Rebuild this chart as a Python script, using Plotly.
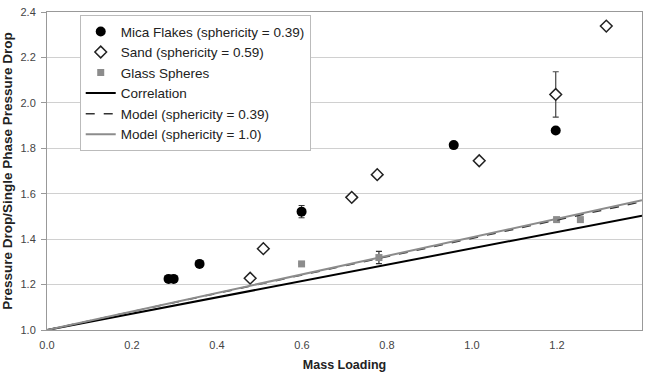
import plotly.graph_objects as go

mica_x = [0.286, 0.298, 0.359, 0.599, 0.957, 1.197]
mica_y = [1.225, 1.225, 1.291, 1.521, 1.814, 1.878]
mica_err = [0, 0, 0, 0.027, 0, 0]

sand_x = [0.478, 0.509, 0.717, 0.777, 1.017, 1.197, 1.316]
sand_y = [1.228, 1.358, 1.584, 1.684, 1.745, 2.037, 2.338]
sand_err = [0, 0, 0, 0, 0, 0.10, 0]

glass_x = [0.599, 0.781, 1.199, 1.255]
glass_y = [1.291, 1.319, 1.486, 1.486]
glass_err = [0, 0.027, 0, 0]

line_x = [0.0, 1.4]
corr_y = [1.0, 1.503]
model039_y = [1.0, 1.565]
model10_y = [1.0, 1.571]

x_ticks = [0.0, 0.2, 0.4, 0.6, 0.8, 1.0, 1.2, 1.4]
y_ticks = [1.0, 1.2, 1.4, 1.6, 1.8, 2.0, 2.2, 2.4]

font_family = "Liberation Sans, Arial, sans-serif"

fig = go.Figure()
fig.add_trace(go.Scatter(
    x=mica_x, y=mica_y, mode="markers", name="Mica Flakes (sphericity = 0.39)",
    marker=dict(symbol="circle", size=10, color="black"),
    error_y=dict(type="data", array=mica_err, visible=True, color="#333", thickness=1, width=3),
))
fig.add_trace(go.Scatter(
    x=sand_x, y=sand_y, mode="markers", name="Sand (sphericity = 0.59)",
    marker=dict(symbol="diamond", size=9, color="white", line=dict(color="#222", width=1.5)),
    error_y=dict(type="data", array=sand_err, visible=True, color="#444", thickness=1.2, width=3),
))
fig.add_trace(go.Scatter(
    x=glass_x, y=glass_y, mode="markers", name="Glass Spheres",
    marker=dict(symbol="square", size=7, color="#8c8c8c"),
    error_y=dict(type="data", array=glass_err, visible=True, color="#333", thickness=1.2, width=3),
))
fig.add_trace(go.Scatter(
    x=line_x, y=corr_y, mode="lines", name="Correlation",
    line=dict(color="black", width=2),
))
fig.add_trace(go.Scatter(
    x=line_x, y=model039_y, mode="lines", name="Model (sphericity = 0.39)",
    line=dict(color="#333", width=1.5, dash="dash"),
))
fig.add_trace(go.Scatter(
    x=line_x, y=model10_y, mode="lines", name="Model (sphericity = 1.0)",
    line=dict(color="#8c8c8c", width=2),
))

fig.update_layout(
    width=649, height=379,
    margin=dict(l=47, r=7, t=12, b=49, autoexpand=False),
    paper_bgcolor="white", plot_bgcolor="white",
    font=dict(family=font_family, size=11, color="#333"),
    showlegend=True,
    legend=dict(
        x=0.055, y=0.99, xanchor="left", yanchor="top",
        bgcolor="white", bordercolor="#bbb", borderwidth=1,
        font=dict(size=13.5, color="#222"),
        tracegroupgap=0, itemwidth=30,
    ),
    xaxis=dict(
        range=[0, 1.4], tickvals=x_ticks, tickformat=".1f",
        showgrid=False, zeroline=False, showline=True, linecolor="#999", mirror=True,
        ticks="outside", ticklen=5, tickcolor="white",
        title=dict(text="<b>Mass Loading</b>", font=dict(size=12.5, color="#222"), standoff=10),
        tickfont=dict(size=11, color="#444"), automargin=False,
    ),
    yaxis=dict(
        range=[1.0, 2.4], tickvals=y_ticks, tickformat=".1f",
        showgrid=True, gridcolor="#d0d0d0", zeroline=False,
        showline=True, linecolor="#999", mirror=True,
        ticks="outside", ticklen=5, tickcolor="#999", ticklabelstandoff=3,
        title=dict(text="<b>Pressure Drop/Single Phase Pressure Drop</b>", font=dict(size=13.5, color="#222"), standoff=4),
        tickfont=dict(size=11, color="#444"), automargin=False,
    ),
)

fig.write_html("out.html", config={"displayModeBar": False},
               post_script="document.body.style.margin='0';")
